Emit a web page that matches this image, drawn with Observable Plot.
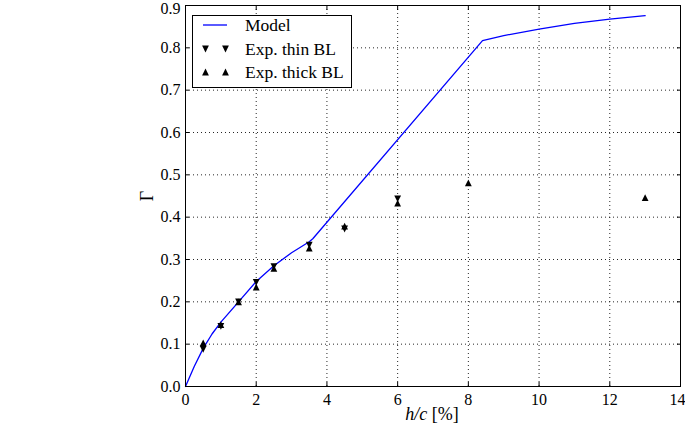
<!DOCTYPE html>
<html><head><meta charset="utf-8">
<script src="https://cdn.jsdelivr.net/npm/d3@7"></script>
<script src="https://cdn.jsdelivr.net/npm/@observablehq/plot@0.6"></script>
<style>body{margin:0;background:#fff}</style>
</head><body><div id="chart"></div>
<script>
const modelX = [0, 0.25, 0.5, 0.75, 1, 1.5, 2, 2.5, 3, 3.5, 3.6, 8.4, 9, 10, 11, 12, 13];
const modelY = [0, 0.048, 0.09, 0.124, 0.152, 0.2, 0.248, 0.285, 0.316, 0.342, 0.349, 0.817, 0.829, 0.844, 0.858, 0.868, 0.876];
const thinX = [0.5, 1, 1.5, 2, 2.5, 3.5, 4.5, 6];
const thinY = [0.088, 0.142, 0.2, 0.246, 0.283, 0.334, 0.372, 0.443];
const thickX = [0.5, 1, 1.5, 2, 2.5, 3.5, 4.5, 6, 8, 13];
const thickY = [0.103, 0.146, 0.2, 0.235, 0.279, 0.327, 0.379, 0.433, 0.481, 0.446];
const xTicks = [0, 2, 4, 6, 8, 10, 12, 14];
const yTicks = [0, 0.1, 0.2, 0.3, 0.4, 0.5, 0.6, 0.7, 0.8, 0.9];
const seriesNames = ["Model", "Exp. thin BL", "Exp. thick BL"];

const model = modelX.map((x, i) => ({x, y: modelY[i]}));
const thin = thinX.map((x, i) => ({x, y: thinY[i]}));
const thick = thickX.map((x, i) => ({x, y: thickY[i]}));

const triUp = {draw(ctx, size) { const a = Math.sqrt(size / Math.PI); ctx.moveTo(0, -a); ctx.lineTo(-a, a); ctx.lineTo(a, a); ctx.closePath(); }};
const triDown = {draw(ctx, size) { const a = Math.sqrt(size / Math.PI); ctx.moveTo(0, a); ctx.lineTo(-a, -a); ctx.lineTo(a, -a); ctx.closePath(); }};

const font = "'Liberation Serif', serif";
const blank = () => "";
const xInner = xTicks.slice(0, -1), xLast = xTicks.slice(-1);
const yInner = yTicks.slice(0, -1), yLast = yTicks.slice(-1);
const plot = Plot.plot({
  width: 685, height: 430,
  marginLeft: 185, marginRight: 5, marginTop: 5, marginBottom: 44,
  style: {fontFamily: font, fontSize: "16px", background: "white", color: "black"},
  x: {domain: [0, 14], ticks: xTicks, label: null},
  y: {domain: [0, 0.9], ticks: yTicks, label: null},
  marks: [
    Plot.gridX(xTicks, {stroke: "black", strokeOpacity: 0.85, strokeDasharray: "1,3", strokeWidth: 1}),
    Plot.gridY(yTicks, {stroke: "black", strokeOpacity: 0.85, strokeDasharray: "1,3", strokeWidth: 1}),
    Plot.axisX(xTicks, {anchor: "bottom", tickSize: -4, tickFormat: blank, label: null}),
    Plot.axisX(xTicks, {anchor: "top", tickSize: -4, tickFormat: blank, label: null}),
    Plot.axisY(yTicks, {anchor: "left", tickSize: -4, tickFormat: blank, label: null}),
    Plot.axisY(yTicks, {anchor: "right", tickSize: -4, tickFormat: blank, label: null}),
    Plot.axisX(xInner, {anchor: "bottom", tickSize: 0, tickPadding: 7, tickFormat: d => String(d), label: null}),
    Plot.axisX(xLast, {anchor: "bottom", tickSize: 0, tickPadding: 7, dx: -3, tickFormat: d => String(d), label: null}),
    Plot.axisY(yInner, {anchor: "left", tickSize: 0, tickPadding: 5, tickFormat: d3.format(".1f"), label: null}),
    Plot.axisY(yLast, {anchor: "left", tickSize: 0, tickPadding: 5, dy: 3, tickFormat: d3.format(".1f"), label: null}),
    Plot.line(model, {x: "x", y: "y", stroke: "#0000ff", strokeWidth: 1.3}),
    Plot.dot(thin, {x: "x", y: "y", symbol: triDown, r: 3.4, fill: "black", stroke: "none"}),
    Plot.dot(thick, {x: "x", y: "y", symbol: triUp, r: 3.4, fill: "black", stroke: "none"}),
    Plot.frame({stroke: "black", strokeWidth: 1})
  ]
});
document.getElementById("chart").appendChild(plot);

const svg = d3.select(plot);
// axis titles
const xl = svg.append("text").attr("x", 432).attr("y", 420).attr("text-anchor", "middle")
  .attr("font-family", font).attr("font-size", 18).attr("fill", "black");
xl.append("tspan").attr("font-style", "italic").text("h/c");
xl.append("tspan").text(" [%]");
svg.append("text").attr("transform", "translate(153,196) rotate(-90)").attr("text-anchor", "middle")
  .attr("font-family", font).attr("font-size", 18).attr("fill", "black").text("Γ");

// legend
const lg = svg.append("g");
lg.append("rect").attr("x", 192.5).attr("y", 15.5).attr("width", 159).attr("height", 72)
  .attr("fill", "white").attr("stroke", "black").attr("stroke-width", 1);
lg.append("line").attr("x1", 203).attr("x2", 227).attr("y1", 25).attr("y2", 25)
  .attr("stroke", "#0000ff").attr("stroke-width", 1.3);
const sym = t => d3.symbol().type(t).size(Math.PI * 3.4 * 3.4)();
[205.5, 225.5].forEach(cx => {
  lg.append("path").attr("d", sym(triDown)).attr("transform", `translate(${cx},49)`).attr("fill", "black");
  lg.append("path").attr("d", sym(triUp)).attr("transform", `translate(${cx},72)`).attr("fill", "black");
});
[[31, 0], [54.5, 1], [77.5, 2]].forEach(([y, i]) => {
  lg.append("text").attr("x", 245).attr("y", y).attr("text-anchor", "start")
    .attr("font-family", font).attr("font-size", 17.5)
    .attr("fill", "black").text(seriesNames[i]);
});
</script>
</body></html>
